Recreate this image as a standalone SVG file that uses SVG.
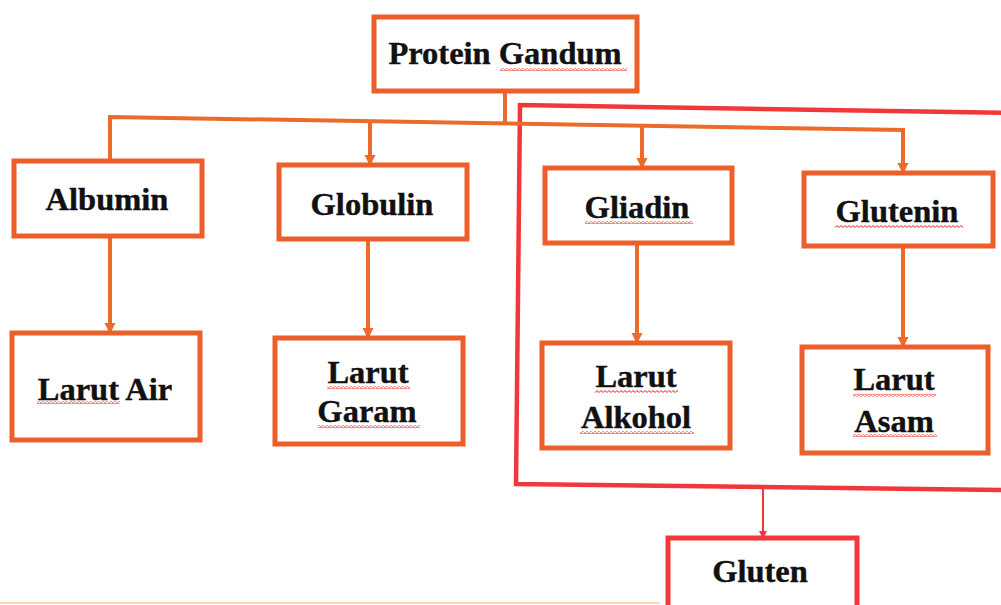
<svg xmlns="http://www.w3.org/2000/svg" width="1001" height="605" viewBox="0 0 1001 605">
<style>
.box{fill:#fff;stroke:#EC5F2A;stroke-width:5}
.rbox{fill:none;stroke:#F2373A;stroke-width:4.5}
.gbox{fill:#fff;stroke:#F2373A;stroke-width:5}
.con{fill:none;stroke:#EC6A2A;stroke-width:4}
.rcon{fill:none;stroke:#F2373A;stroke-width:2}
.t{font-family:"Liberation Serif","Times New Roman",serif;font-weight:bold;font-size:32.5px;fill:#111;stroke:#111;stroke-width:0.4;text-anchor:middle}
.sq{fill:url(#wave)}
</style>
<defs>
<marker id="ah" markerWidth="11" markerHeight="12" refX="9" refY="5.5" orient="auto" markerUnits="userSpaceOnUse" viewBox="0 0 11 11">
<path d="M0,0 L11,5.5 L0,11 z" fill="#EC6A2A"/>
</marker>
<marker id="ahr" markerWidth="8" markerHeight="8" refX="6" refY="4" orient="auto" markerUnits="userSpaceOnUse" viewBox="0 0 8 8">
<path d="M0,0 L8,4 L0,8 z" fill="#F2373A"/>
</marker>
<pattern id="wave" width="4" height="3" patternUnits="userSpaceOnUse">
<path d="M0 1.5 Q1 0 2 1.5 T4 1.5" fill="none" stroke="#E8403A" stroke-width="1.1"/>
</pattern>
</defs>
<rect width="1001" height="605" fill="#fff"/>
<line x1="0" y1="603" x2="660" y2="603" stroke="#F5C9A0" stroke-width="2" opacity="0.7"/>

<g id="gluten-group">
<path class="rbox" d="M1010 113 L520 105 L516 484 L1010 490"/>
</g>

<g id="connectors">
<path class="con" d="M505 91 L505 123"/>
<path class="con" d="M110 160 L110 117 L903 130 L903 172" marker-end="url(#ah)"/>
<path class="con" d="M370 122 L370 164" marker-end="url(#ah)"/>
<path class="con" d="M642 126 L642 167" marker-end="url(#ah)"/>
<path class="con" d="M110 237 L110 332" marker-end="url(#ah)"/>
<path class="con" d="M368 240 L368 337" marker-end="url(#ah)"/>
<path class="con" d="M637 244 L637 342" marker-end="url(#ah)"/>
<path class="con" d="M903 247 L903 346" marker-end="url(#ah)"/>
<path class="rcon" d="M763 487 L763 537" marker-end="url(#ahr)"/>
</g>

<g id="protein-gandum">
<rect class="box" x="374" y="17" width="263" height="74"/>
<text class="t" x="505" y="64">Protein Gandum</text>
<rect class="sq" x="500" y="68" width="127" height="3"/>
</g>
<g id="albumin">
<rect class="box" x="14" y="161" width="188" height="75"/>
<text class="t" x="107" y="210">Albumin</text>
</g>
<g id="globulin">
<rect class="box" x="279" y="165" width="188" height="74"/>
<text class="t" x="372" y="215">Globulin</text>
</g>
<g id="gliadin">
<rect class="box" x="545" y="168" width="187" height="75"/>
<text class="t" x="637" y="218">Gliadin</text>
<rect class="sq" x="585" y="221" width="108" height="3"/>
</g>
<g id="glutenin">
<rect class="box" x="804" y="173" width="189" height="73"/>
<text class="t" x="897" y="222">Glutenin</text>
<rect class="sq" x="835" y="225" width="128" height="3"/>
</g>
<g id="larut-air">
<rect class="box" x="12" y="333" width="188" height="107"/>
<text class="t" x="105" y="400">Larut Air</text>
<rect class="sq" x="37" y="401" width="83" height="3"/>
</g>
<g id="larut-garam">
<rect class="box" x="275" y="338" width="188" height="106"/>
<text class="t" x="368" y="383">Larut</text>
<text class="t" x="367" y="422">Garam</text>
<rect class="sq" x="327" y="386" width="83" height="3"/>
<rect class="sq" x="318" y="425" width="102" height="3"/>
</g>
<g id="larut-alkohol">
<rect class="box" x="542" y="343" width="188" height="105"/>
<text class="t" x="636" y="387">Larut</text>
<text class="t" x="636" y="428">Alkohol</text>
<rect class="sq" x="595" y="390" width="83" height="3"/>
<rect class="sq" x="580" y="431" width="114" height="3"/>
</g>
<g id="larut-asam">
<rect class="box" x="802" y="347" width="186" height="106"/>
<text class="t" x="894" y="390">Larut</text>
<text class="t" x="894" y="432">Asam</text>
<rect class="sq" x="853" y="394" width="83" height="3"/>
<rect class="sq" x="853" y="434" width="84" height="3"/>
</g>
<g id="gluten">
<rect class="gbox" x="668" y="538" width="189" height="80"/>
<text class="t" x="760" y="582">Gluten</text>
</g>
</svg>
